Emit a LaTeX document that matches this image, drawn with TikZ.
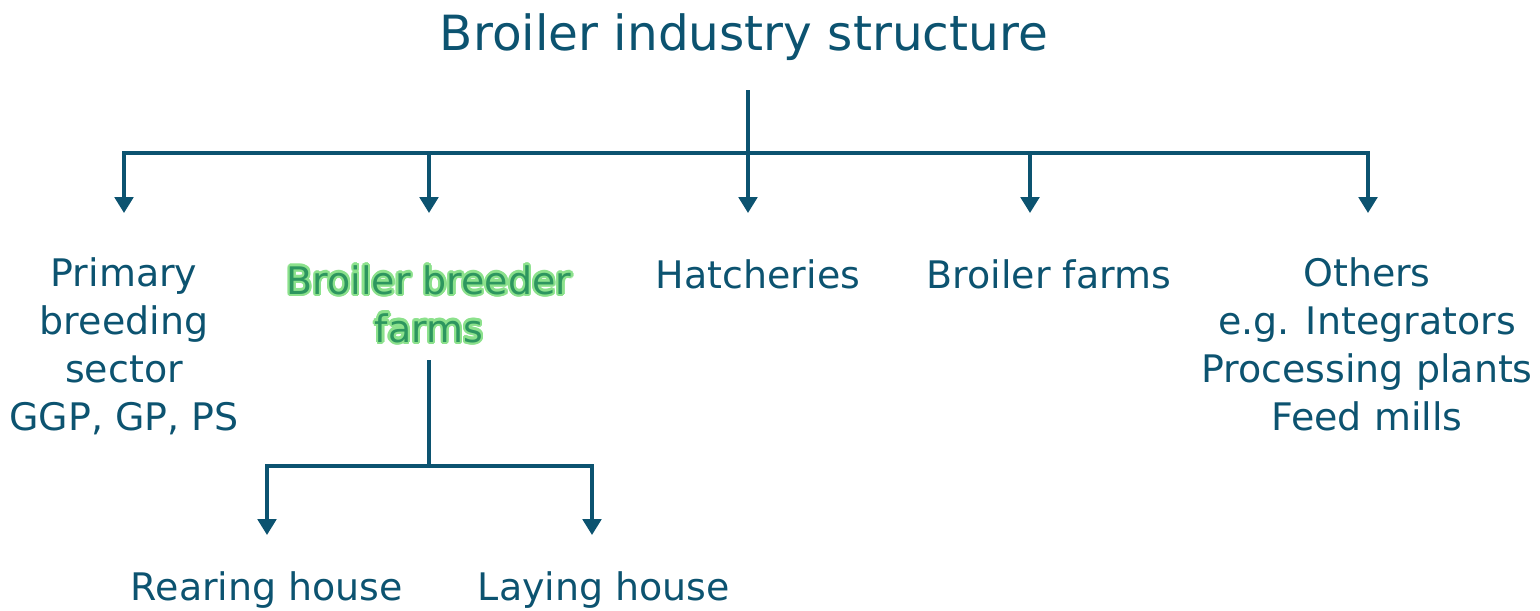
\documentclass[tikz,border=0pt]{standalone}
\usepackage{fontspec}
\setmainfont{DejaVu Sans}
\usepackage{contour}
\usetikzlibrary{arrows.meta}
\definecolor{navy}{RGB}{12,83,112}
\definecolor{leaf}{RGB}{45,150,95}
\definecolor{glow}{RGB}{140,225,140}
\contourlength{1.3pt}
\begin{document}
\begin{tikzpicture}[x=0.02cm,y=-0.02cm,
    lbl/.style={text=navy,font=\fontsize{21.6}{27.2}\selectfont,align=center,anchor=base,inner sep=0pt},
    link/.style={draw=navy,line width=2pt},
    drop/.style={link,-{Triangle[width=10.5pt,length=9pt]}}]
    \useasboundingbox (0,0) rectangle (1540,610);
    % title and main bus
    \node[lbl,font=\fontsize{27.6}{33}\selectfont] (title) at (744,50) {Broiler industry structure};
    \coordinate (top) at (748,90);
    \coordinate (bus) at (748,153);
    \coordinate (tipPrim) at (124,213);
    \coordinate (tipBreed) at (429,213);
    \coordinate (tipHatch) at (748,213);
    \coordinate (tipFarm) at (1030,213);
    \coordinate (tipOther) at (1368,213);
    \draw[link] (top) -- (bus);
    \draw[drop] (bus) -| (tipPrim);
    \draw[drop] (bus) -| (tipOther);
    \draw[drop] (tipBreed |- bus) -- (tipBreed);
    \draw[drop] (bus) -- (tipHatch);
    \draw[drop] (tipFarm |- bus) -- (tipFarm);
    % sectors (base = last line)
    \node[lbl] (prim) at (124,430) {Primary\\breeding\\sector\\GGP, GP, PS};
    \node[lbl,text=leaf] (breed) at (429,342) {\contour{glow}{Broiler breeder}\\\contour{glow}{farms}};
    \node[lbl] (hatch) at (758,288) {Hatcheries};
    \node[lbl] (farm) at (1049,288) {Broiler farms};
    \node[lbl] (other) at (1367,430) {Others\\e.g. Integrators\\Processing plants\\Feed mills};
    % breeder farm houses
    \coordinate (farmsDown) at (429,360);
    \coordinate (subBus) at (429,466);
    \coordinate (tipRear) at (267,535);
    \coordinate (tipLay) at (592,535);
    \draw[link] (farmsDown) -- (subBus);
    \draw[drop] (subBus) -| (tipRear);
    \draw[drop] (subBus) -| (tipLay);
    \node[lbl] (rear) at (267,600) {Rearing house};
    \node[lbl] (lay) at (604,600) {Laying house};
\end{tikzpicture}
\end{document}
